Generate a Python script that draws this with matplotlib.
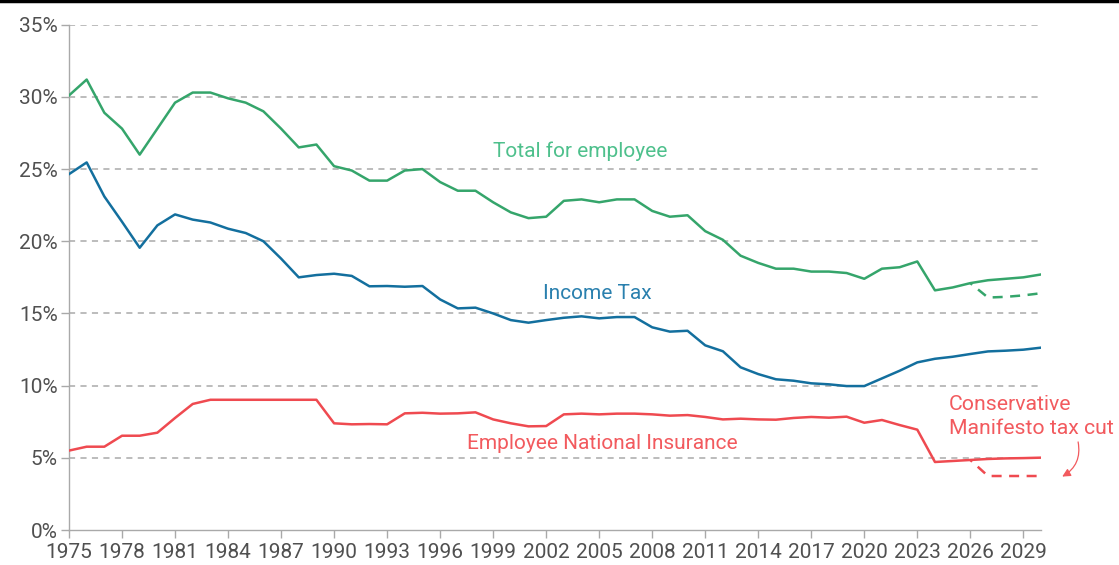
import numpy as np
import matplotlib.pyplot as plt
from matplotlib.lines import Line2D

years = list(range(1975, 2031))

income_tax = [24.65, 25.46, 23.1, 21.35, 19.55, 21.1, 21.86, 21.5, 21.3, 20.87,
              20.57, 20.0, 18.8, 17.5, 17.66, 17.75, 17.6, 16.88, 16.9, 16.85,
              16.9, 15.97, 15.35, 15.4, 15.0, 14.54, 14.36, 14.54, 14.7, 14.8,
              14.66, 14.75, 14.75, 14.04, 13.74, 13.8, 12.79, 12.38, 11.27, 10.8,
              10.44, 10.34, 10.16, 10.09, 9.97, 9.97, 10.5, 11.03, 11.61, 11.86,
              12.0, 12.19, 12.37, 12.42, 12.49, 12.63]

nat_ins = [5.5, 5.77, 5.77, 6.53, 6.53, 6.74, 7.76, 8.73, 9.02, 9.02,
           9.02, 9.02, 9.02, 9.02, 9.02, 7.39, 7.32, 7.34, 7.32, 8.08,
           8.12, 8.06, 8.08, 8.15, 7.66, 7.39, 7.18, 7.2, 8.01, 8.06,
           8.01, 8.06, 8.06, 8.01, 7.92, 7.96, 7.83, 7.66, 7.71, 7.66,
           7.64, 7.76, 7.83, 7.78, 7.85, 7.43, 7.62, 7.27, 6.95, 4.71,
           4.78, 4.85, 4.92, 4.96, 4.98, 5.01]

total = [30.1, 31.2, 28.9, 27.8, 26.0, 27.8, 29.6, 30.3, 30.3, 29.9,
         29.6, 29.0, 27.8, 26.5, 26.7, 25.2, 24.9, 24.2, 24.2, 24.9,
         25.0, 24.1, 23.5, 23.5, 22.7, 22.0, 21.6, 21.7, 22.8, 22.9,
         22.7, 22.9, 22.9, 22.1, 21.7, 21.8, 20.7, 20.1, 19.0, 18.5,
         18.1, 18.1, 17.9, 17.9, 17.8, 17.4, 18.1, 18.2, 18.6, 16.6,
         16.8, 17.1, 17.3, 17.4, 17.5, 17.7]

# Conservative manifesto scenario (dashed), 2026-2030
cut_years = [2026, 2027, 2028, 2029, 2030]
nat_ins_cut = [4.85, 3.74, 3.74, 3.74, 3.74]
total_cut = [17.1, 16.1, 16.15, 16.25, 16.4]

xticks = list(range(1975, 2031, 3))
yticks = [0, 5, 10, 15, 20, 25, 30, 35]

green = '#35a56b'
blue = '#136f9e'
red = '#ef4a50'
grey = '#a9a9a9'
textcol = '#505050'

plt.rcParams['font.family'] = ['Roboto', 'DejaVu Sans']

fig = plt.figure(figsize=(11.19, 5.65), dpi=100)
ax = fig.add_axes([69 / 1119, 1 - 530 / 565, (1041 - 69) / 1119, (530 - 24.7) / 565])

for y in yticks[1:]:
    ax.axhline(y, color=grey, lw=1.1, ls=(0, (4, 3.5)), zorder=1)

ax.plot(years, total, color=green, lw=1.8, zorder=3)
ax.plot(years, income_tax, color=blue, lw=1.8, zorder=3)
ax.plot(years, nat_ins, color=red, lw=1.8, zorder=3)
ax.plot(cut_years, total_cut, color=green, lw=1.8, ls=(3, (4, 3)), zorder=3)
ax.plot(cut_years, nat_ins_cut, color=red, lw=1.8, ls=(3, (4, 3)), zorder=3)

ax.set_xlim(1975, 2030)
ax.set_ylim(0, 35)
ax.set_xticks(xticks)
ax.set_yticks(yticks)
ax.set_yticklabels(['%d%%' % v for v in yticks])
ax.tick_params(axis='both', colors=grey, labelcolor=textcol, labelsize=15,
               length=6, width=1)
ax.tick_params(axis='x', pad=3)
ax.tick_params(axis='y', pad=2)

for s in ['top', 'right']:
    ax.spines[s].set_visible(False)
for s in ['left', 'bottom']:
    ax.spines[s].set_color(grey)
    ax.spines[s].set_linewidth(1)

ax.text(2003.9, 26.25, 'Total for employee', color='#4ec08c', fontsize=15,
        ha='center', va='center')
ax.text(2004.9, 16.4, 'Income Tax', color='#2a80ae', fontsize=15,
        ha='center', va='center')
ax.text(2005.2, 6.0, 'Employee National Insurance', color='#f25a5e', fontsize=15,
        ha='center', va='center')
ax.text(2024.8, 7.85, 'Conservative\nManifesto tax cut', color='#f25a5e',
        fontsize=15.3, ha='left', va='center', linespacing=1.3)
ax.annotate('', xy=(2031.2, 3.7), xytext=(2032.1, 6.1),
            arrowprops=dict(arrowstyle='-|>', color='#f25a5e', lw=0.9,
                            mutation_scale=12, shrinkA=0, shrinkB=0,
                            connectionstyle='arc3,rad=-0.35'),
            annotation_clip=False)

fig.add_artist(Line2D([0, 1], [0.998, 0.998], color='black', lw=2.5,
                      transform=fig.transFigure))

fig.savefig('out.png', dpi=100)
